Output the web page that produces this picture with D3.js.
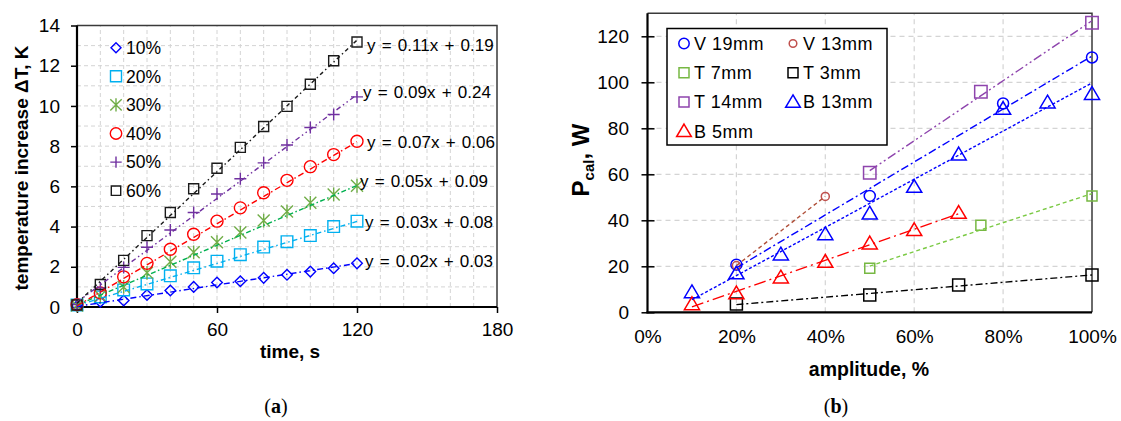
<!DOCTYPE html>
<html>
<head>
<meta charset="utf-8">
<script src="https://cdn.jsdelivr.net/npm/d3@7"></script>
<style>
  body { margin: 0; background: #fff; }
  svg { display: block; }
  text { font-family: "Liberation Sans", Arial, sans-serif; fill: #000; }
</style>
</head>
<body>
<svg id="fig" width="1121" height="421"></svg>
<script>
// ---------- (a) temperature increase vs. time ----------
const timeS = [0, 10, 20, 30, 40, 50, 60, 70, 80, 90, 100, 110, 120];
const dT10 = [0.05, 0.26, 0.32, 0.6, 0.82, 1.0, 1.22, 1.28, 1.45, 1.6, 1.76, 1.93, 2.17];
const dT20 = [0.1, 0.5, 0.85, 1.15, 1.55, 1.95, 2.28, 2.6, 2.98, 3.25, 3.55, 4.0, 4.27];
const dT30 = [0.08, 0.55, 1.0, 1.7, 2.25, 2.72, 3.22, 3.7, 4.3, 4.75, 5.18, 5.6, 6.03];
const dT40 = [0.12, 0.7, 1.5, 2.17, 2.87, 3.62, 4.27, 4.93, 5.68, 6.3, 6.98, 7.58, 8.24];
const dT50 = [0.12, 0.95, 1.97, 2.97, 3.83, 4.7, 5.62, 6.38, 7.17, 8.06, 8.93, 9.57, 10.45];
const dT60 = [0.1, 1.12, 2.32, 3.55, 4.7, 5.88, 6.9, 7.94, 8.98, 9.98, 11.08, 12.25, 13.18];
const heatNames = ["10%", "20%", "30%", "40%", "50%", "60%"];
// linear trend y = slope * t + intercept for each amplitude
const trendSlope = [0.0178, 0.0348, 0.0496, 0.068, 0.086, 0.109];
const trendIntercept = [0.03, 0.08, 0.09, 0.06, 0.24, 0.19];
const timeTicks = [0, 60, 120, 180];
const dTTicks = [0, 2, 4, 6, 8, 10, 12, 14];

// ---------- (b) calorimetric power vs. amplitude ----------
const powerNames = ["V 19mm", "V 13mm", "T 7mm", "T 3mm", "T 14mm", "B 13mm", "B 5mm"];
const ampV19 = [20, 50, 80, 100];
const powV19 = [20.7, 50.6, 90.8, 110.8];
const ampV13 = [20, 40];
const powV13 = [20.3, 50.4];
const ampT7 = [50, 75, 100];
const powT7 = [19.1, 37.8, 50.6];
const ampT3 = [20, 50, 70, 100];
const powT3 = [3.6, 7.5, 11.9, 16.2];
const ampT14 = [50, 75, 100];
const powT14 = [60.7, 95.9, 125.9];
const ampB13 = [10, 20, 30, 40, 50, 60, 70, 80, 90, 100];
const powB13 = [8.8, 17, 25.2, 34, 43, 54.6, 68.7, 88.5, 91.3, 95];
const ampB5 = [10, 20, 30, 40, 50, 60, 70];
const powB5 = [3.6, 8.3, 15.2, 22, 30, 35.8, 43.3];
const ampTicks = [0, 20, 40, 60, 80, 100];
const powerTicks = [0, 20, 40, 60, 80, 100, 120];

const svg = d3.select("#fig");

// marker outlines centred on the origin
function markerPath(kind, s) {
  switch (kind) {
    case "diamond": return `M0,${-s}L${s},0L0,${s}L${-s},0Z`;
    case "square": return `M${-s},${-s}H${s}V${s}H${-s}Z`;
    case "circle": return `M${s},0A${s},${s} 0 1 1 ${-s},0A${s},${s} 0 1 1 ${s},0Z`;
    case "triangle": return `M0,${-s}L${s * 1.05},${s * 0.78}L${-s * 1.05},${s * 0.78}Z`;
    case "asterisk": return `M${-s},${-s}L${s},${s}M${-s},${s}L${s},${-s}M0,${-s * 1.15}V${s * 1.15}`;
    case "plus": return `M${-s},0H${s}M0,${-s}V${s}`;
  }
}

function drawMarker(g, kind, s, color, x, y, w) {
  g.append("path")
    .attr("d", markerPath(kind, s))
    .attr("transform", `translate(${x},${y})`)
    .attr("fill", "none")
    .attr("stroke", color)
    .attr("stroke-width", w || 1.4);
}

function styleAxis(g, fontSize) {
  g.selectAll("text").style("font-family", "'Liberation Sans', Arial, sans-serif")
    .style("font-size", fontSize + "px").attr("fill", "#000");
  g.selectAll("line").attr("stroke", "#000").attr("stroke-width", 1.5);
  g.select(".domain").remove();
}

// =============== panel (a) ===============
const xA = d3.scaleLinear().domain([0, 180]).range([77, 497]);
const yA = d3.scaleLinear().domain([0, 14]).range([307, 25.5]);
const pa = svg.append("g");

const gridA = pa.append("g").attr("stroke", "#d4d4d4").attr("stroke-width", 1).attr("stroke-dasharray", "4,3");
d3.range(10, 180, 10).forEach(t => gridA.append("line")
  .attr("x1", xA(t)).attr("x2", xA(t)).attr("y1", yA(0)).attr("y2", yA(14)));
d3.range(1, 14, 1).forEach(v => gridA.append("line")
  .attr("x1", xA(0)).attr("x2", xA(180)).attr("y1", yA(v)).attr("y2", yA(v)));

// frame
pa.append("path")
  .attr("d", `M${xA(0)},${yA(14)}H${xA(180)}V${yA(0)}`)
  .attr("fill", "none").attr("stroke", "#3a3a3a").attr("stroke-width", 1.5);

const axA_y = pa.append("g").attr("transform", `translate(${xA(0)},0)`)
  .call(d3.axisLeft(yA).tickValues(dTTicks).tickSize(6).tickPadding(11));
styleAxis(axA_y, 19);
const axA_x = pa.append("g").attr("transform", `translate(0,${yA(0)})`)
  .call(d3.axisBottom(xA).tickValues(timeTicks).tickSize(6).tickPadding(10));
styleAxis(axA_x, 19);
pa.append("line").attr("x1", xA(0)).attr("x2", xA(0)).attr("y1", yA(14)).attr("y2", yA(0) + 1)
  .attr("stroke", "#000").attr("stroke-width", 2.2);
pa.append("line").attr("x1", xA(0) - 1).attr("x2", xA(180)).attr("y1", yA(0)).attr("y2", yA(0))
  .attr("stroke", "#000").attr("stroke-width", 2.2);

const heatData = [dT10, dT20, dT30, dT40, dT50, dT60];
const heatMarker = ["diamond", "square", "asterisk", "circle", "plus", "square"];
const heatMarkerSize = [5.3, 5.8, 6, 6, 6, 5];
const heatMarkerColor = ["#0000FF", "#00B0F0", "#70AD47", "#FF0000", "#7030A0", "#1a1a1a"];
const heatLineColor = ["#0000FF", "#00B0F0", "#00B050", "#FF0000", "#7030A0", "#1a1a1a"];
const heatLabelColor = ["#0000FF", "#00B0F0", "#8CC63F", "#FF0000", "#5B6BB0", "#000000"];
const heatDash = ["6,3,1.5,3", "5,3,1.5,3", "5,2.5,1.5,2.5", "6,3,1.5,3", "5,3,1.5,3,1.5,3", "4,3,1.5,3"];
const heatLabelDx = [8, 8, 3, 10, 6, 10];
const heatLabelDy = [-3, 0, -4.5, 0, -3, 4.5];

heatData.forEach((vals, i) => {
  const g = pa.append("g");
  vals.forEach((v, k) => drawMarker(g, heatMarker[i], heatMarkerSize[i], heatMarkerColor[i], xA(timeS[k]), yA(v)));
});
heatData.forEach((vals, i) => {
  const t0 = d3.min(timeS), t1 = d3.max(timeS);
  const f = t => trendSlope[i] * t + trendIntercept[i];
  pa.append("line")
    .attr("x1", xA(t0)).attr("y1", yA(f(t0)))
    .attr("x2", xA(t1)).attr("y2", yA(f(t1)))
    .attr("stroke", heatLineColor[i]).attr("stroke-width", 1.4)
    .attr("stroke-dasharray", heatDash[i]);
  pa.append("text")
    .attr("x", xA(t1) + heatLabelDx[i])
    .attr("y", yA(f(t1)) + heatLabelDy[i])
    .attr("dy", "0.36em")
    .style("font-size", "17px")
    .style("word-spacing", "1.5px")
    .attr("fill", heatLabelColor[i])
    .text(`y = ${trendSlope[i].toFixed(2)}x + ${trendIntercept[i].toFixed(2)}`);
});

// legend (a)
heatNames.forEach((name, i) => {
  const cy = 47.7 + i * 28.6;
  drawMarker(pa, heatMarker[i], heatMarkerSize[i] - 0.3, heatMarkerColor[i], 116, cy);
  pa.append("text").attr("x", 126).attr("y", cy).attr("dy", "0.36em")
    .style("font-size", "17.5px").text(name);
});

// axis titles (a)
pa.append("text").attr("x", 290).attr("y", 358).attr("text-anchor", "middle")
  .style("font-size", "19px").style("font-weight", "bold").text("time, s");
pa.append("text").attr("transform", "translate(28,168) rotate(-90)").attr("text-anchor", "middle")
  .style("font-size", "19px").style("font-weight", "bold").text("temperature increase \u0394T, K");

// =============== panel (b) ===============
const xB = d3.scaleLinear().domain([0, 100]).range([647.5, 1092]);
const yB = d3.scaleLinear().domain([0, 130]).range([312.3, 13.3]);
const pb = svg.append("g");

const gridB = pb.append("g").attr("stroke", "#d4d4d4").attr("stroke-width", 1.2).attr("stroke-dasharray", "5,4");
ampTicks.filter(a => a > 0 && a < 100).forEach(a => gridB.append("line")
  .attr("x1", xB(a)).attr("x2", xB(a)).attr("y1", yB(0)).attr("y2", yB(130)));
powerTicks.filter(p => p > 0).forEach(p => gridB.append("line")
  .attr("x1", xB(0)).attr("x2", xB(100)).attr("y1", yB(p)).attr("y2", yB(p)));

pb.append("path")
  .attr("d", `M${xB(0)},${yB(130)}H${xB(100)}V${yB(0)}`)
  .attr("fill", "none").attr("stroke", "#3a3a3a").attr("stroke-width", 1.5);

const axB_y = pb.append("g").attr("transform", `translate(${xB(0)},0)`)
  .call(d3.axisLeft(yB).tickValues(powerTicks).tickSize(6).tickPadding(12.5));
styleAxis(axB_y, 19);
axB_y.selectAll(".tick line").attr("x1", 7);
const axB_x = pb.append("g").attr("transform", `translate(0,${yB(0)})`)
  .call(d3.axisBottom(xB).tickValues(ampTicks).tickSize(0).tickPadding(17).tickFormat(d => d + "%"));
styleAxis(axB_x, 19);
pb.append("line").attr("x1", xB(0)).attr("x2", xB(0)).attr("y1", yB(130)).attr("y2", yB(0) + 1)
  .attr("stroke", "#000").attr("stroke-width", 2.2);
pb.append("line").attr("x1", xB(0) - 1).attr("x2", xB(100)).attr("y1", yB(0)).attr("y2", yB(0))
  .attr("stroke", "#000").attr("stroke-width", 2.2);

const powerAmp = [ampV19, ampV13, ampT7, ampT3, ampT14, ampB13, ampB5];
const powerVal = [powV19, powV13, powT7, powT3, powT14, powB13, powB5];
const powerMarker = ["circle", "circle", "square", "square", "square", "triangle", "triangle"];
const powerMarkerSize = [5.5, 4, 5, 6, 6.2, 7.2, 7.2];
const powerMarkerColor = ["#0000FF", "#C0504D", "#77B843", "#000000", "#8E44AD", "#0000FF", "#FF0000"];
const powerLineColor = ["#0000FF", "#B0503A", "#7AC943", "#000000", "#8E44AD", "#0000FF", "#FF0000"];
const powerDash = ["8,3,2,3", "4,3", "4,3", "7,3,2,3", "9,3,2,3,2,3", "3,2", "12,4,2,4"];

powerAmp.forEach((amps, i) => {
  amps.forEach((a, k) => drawMarker(pb, powerMarker[i], powerMarkerSize[i], powerMarkerColor[i], xB(a), yB(powerVal[i][k]), 1.5));
});
// least-squares trend line over each series' own amplitude range
powerAmp.forEach((amps, i) => {
  const ys = powerVal[i];
  const mx = d3.mean(amps), my = d3.mean(ys);
  const sxy = d3.sum(amps, (a, k) => (a - mx) * (ys[k] - my));
  const sxx = d3.sum(amps, a => (a - mx) * (a - mx));
  const b = sxy / sxx, c = my - b * mx;
  const a0 = d3.min(amps), a1 = d3.max(amps);
  pb.append("line")
    .attr("x1", xB(a0)).attr("y1", yB(b * a0 + c))
    .attr("x2", xB(a1)).attr("y2", yB(b * a1 + c))
    .attr("stroke", powerLineColor[i]).attr("stroke-width", 1.4)
    .attr("stroke-dasharray", powerDash[i]);
});

// legend (b)
pb.append("rect").attr("x", 667).attr("y", 28.5).attr("width", 220).attr("height", 116.5)
  .attr("fill", "#fff").attr("stroke", "#000").attr("stroke-width", 1.5);
powerNames.forEach((name, i) => {
  const col = i % 2, row = Math.floor(i / 2);
  const cx = col === 0 ? 684 : 793;
  const cy = 43.5 + row * 29.2;
  const s = powerMarker[i] === "triangle" ? 7 : (powerMarker[i] === "circle" ? (i === 1 ? 3.8 : 5.2) : 5);
  drawMarker(pb, powerMarker[i], s, powerMarkerColor[i], cx, cy, 1.5);
  pb.append("text").attr("x", cx + 10).attr("y", cy).attr("dy", "0.36em")
    .style("font-size", "18px").style("letter-spacing", "0.5px").text(name);
});

// axis titles (b)
pb.append("text").attr("x", 869).attr("y", 376).attr("text-anchor", "middle")
  .style("font-size", "19.5px").style("font-weight", "bold").text("amplitude, %");
const yt = pb.append("text").attr("transform", "translate(589,160) rotate(-90)").attr("text-anchor", "middle")
  .style("font-weight", "bold").style("font-size", "24px");
yt.append("tspan").text("P");
yt.append("tspan").attr("dy", 5).style("font-size", "15px").text("cal");
yt.append("tspan").attr("dy", -5).text(", W");

// panel captions
function caption(x, letter) {
  const t = svg.append("text").attr("x", x).attr("y", 413).attr("text-anchor", "middle")
    .style("font-family", "'Liberation Serif', 'DejaVu Serif', serif").style("font-size", "20px");
  t.append("tspan").text("(");
  t.append("tspan").style("font-weight", "bold").text(letter);
  t.append("tspan").text(")");
}
caption(276, "a");
caption(836, "b");
</script>
</body>
</html>
